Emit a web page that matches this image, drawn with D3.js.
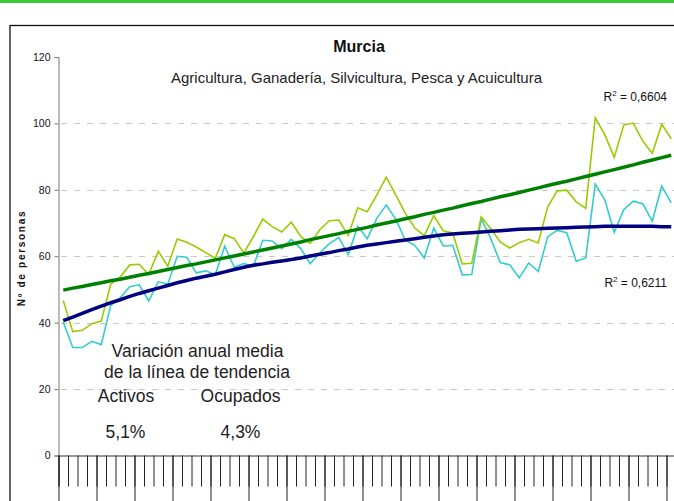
<!DOCTYPE html>
<head>
<meta charset="utf-8">
<title>Murcia - Agricultura</title>
<style>
body { margin: 0; background: #fff; }
svg { display: block; font-family: Arial, "Liberation Sans", sans-serif; }
</style>
</head>
<body>
<script src="https://d3js.org/d3.v7.min.js"></script>
<script>
// datos trimestrales (miles de personas)
var activos = [46.7, 37.3, 37.7, 39.7, 40.5, 51.6, 53.8, 57.4, 57.6, 54.5,
  61.5, 57.0, 65.2, 64.2, 62.8, 61.1, 59.4, 66.5, 65.3, 61.0,
  65.8, 71.2, 68.9, 67.3, 70.3, 66.0, 63.9, 68.0, 70.7, 70.9,
  66.3, 74.6, 73.4, 78.4, 83.8, 78.5, 73.0, 68.5, 66.2, 72.2,
  67.7, 67.0, 57.7, 57.9, 71.9, 68.3, 64.3, 62.5, 64.1, 65.1,
  64.0, 74.9, 79.7, 79.9, 76.4, 74.4, 101.7, 96.6, 89.8, 99.5,
  100.1, 94.7, 91.0, 99.7, 95.4];
var ocupados = [40.2, 32.5, 32.5, 34.4, 33.4, 45.2, 47.5, 50.8, 51.4, 46.6,
  52.3, 51.6, 60.0, 59.7, 55.0, 55.6, 54.4, 63.0, 56.7, 57.8,
  56.9, 64.8, 64.6, 62.3, 65.1, 62.3, 57.8, 61.0, 63.8, 65.6,
  60.5, 69.0, 65.3, 71.4, 75.4, 71.2, 64.9, 63.3, 59.5, 68.5,
  63.1, 63.3, 54.4, 54.5, 71.3, 65.3, 58.1, 57.4, 53.5, 58.0,
  55.4, 65.9, 67.8, 67.1, 58.5, 59.5, 81.7, 77.0, 67.2, 74.0,
  76.6, 75.8, 70.6, 81.1, 76.1];
// lineas de tendencia (polinomicas)
var tendActivos = [49.8, 50.4, 50.9, 51.5, 52.0, 52.6, 53.1, 53.7, 54.3, 54.8,
  55.4, 56.0, 56.6, 57.2, 57.7, 58.3, 58.9, 59.5, 60.1, 60.7,
  61.3, 61.9, 62.5, 63.1, 63.7, 64.3, 65.0, 65.6, 66.2, 66.8,
  67.5, 68.1, 68.7, 69.4, 70.0, 70.6, 71.3, 71.9, 72.6, 73.2,
  73.9, 74.5, 75.2, 75.9, 76.5, 77.2, 77.9, 78.5, 79.2, 79.9,
  80.6, 81.3, 82.0, 82.6, 83.3, 84.0, 84.7, 85.4, 86.1, 86.8,
  87.5, 88.3, 89.0, 89.7, 90.4];
var tendOcupados = [40.6, 41.7, 42.8, 43.9, 45.0, 46.0, 46.9, 47.9, 48.8, 49.6,
  50.4, 51.2, 52.0, 52.7, 53.4, 54.0, 54.6, 55.3, 56.0, 56.7,
  57.3, 57.7, 58.2, 58.6, 59.0, 59.5, 60.1, 60.6, 61.1, 61.7,
  62.2, 62.8, 63.3, 63.7, 64.1, 64.5, 64.9, 65.3, 65.7, 66.1,
  66.5, 66.7, 66.9, 67.1, 67.3, 67.5, 67.7, 67.9, 68.1, 68.2,
  68.3, 68.4, 68.5, 68.6, 68.7, 68.8, 68.9, 69.0, 69.0, 69.0,
  69.0, 69.0, 69.0, 68.9, 68.9];
var anos = ["2002", "2003", "2004", "2005", "2006", "2007", "2008", "2009", "2010",
  "2011", "2012", "2013", "2014", "2015", "2016", "2017", "2018"];
var yTicks = [0, 20, 40, 60, 80, 100, 120];

var width = 674, height = 501;
var svg = d3.select('body').append('svg')
  .attr('width', width)
  .attr('height', height);

// franja verde superior y marco
svg.append('rect').attr('x', 0).attr('y', 0).attr('width', width).attr('height', 3)
  .style('fill', '#3cc83c');
svg.append('rect').attr('x', 10).attr('y', 25.5).attr('width', 700).attr('height', 520)
  .style('fill', 'none').style('stroke', '#111').style('stroke-width', 1.3);

// escalas
var n = activos.length;
var x = d3.scaleLinear().domain([0, n]).range([58.5, 58.5 + n * 9.5]);
var y = d3.scaleLinear().domain([0, 120]).range([455.5, 57]);

// rejilla
svg.selectAll('line.grid')
  .data(yTicks.filter(function(d) { return d > 0 && d < 120; }))
  .enter().append('line')
  .attr('class', 'grid')
  .attr('x1', 61).attr('x2', width)
  .attr('y1', function(d) { return Math.round(y(d)) + 0.5; })
  .attr('y2', function(d) { return Math.round(y(d)) + 0.5; })
  .style('stroke', '#c8c8c8').style('stroke-dasharray', '6,7');

// eje Y
var ejeY = svg.append('g').attr('transform', 'translate(58.5,0)')
  .call(d3.axisLeft(y).tickValues(yTicks).tickSize(4).tickPadding(4));
ejeY.select('.domain').style('stroke', '#777');
ejeY.selectAll('.tick line').style('stroke', '#777');
ejeY.selectAll('.tick text').style('font-size', '10.5px').style('fill', '#111')
  .style('font-family', 'Arial, "Liberation Sans", sans-serif');

// eje X: marcas trimestrales y anuales
var ejeX = svg.append('g').attr('transform', 'translate(0,455.5)')
  .call(d3.axisBottom(x).tickValues(d3.range(0, n + 1)).tickSize(31).tickFormat(''));
ejeX.select('.domain').style('stroke', '#333');
ejeX.selectAll('.tick line').style('stroke', '#222');
var ejeX2 = svg.append('g').attr('transform', 'translate(0,455.5)')
  .call(d3.axisBottom(x).tickValues(d3.range(0, n + 1, 4)).tickSize(60).tickFormat(''));
ejeX2.select('.domain').remove();
ejeX2.selectAll('.tick line').style('stroke', '#222');
// etiquetas de año: quedan casi fuera del recorte, como en el original
svg.selectAll('text.ano')
  .data(anos)
  .enter().append('text')
  .attr('class', 'ano')
  .attr('x', function(d, i) { return x(i * 4 + 2); })
  .attr('y', 509.5)
  .attr('text-anchor', 'middle')
  .style('font-size', '11px').style('fill', '#999')
  .text(function(d) { return d; });

// series
var linea = function(datos) {
  return d3.line()
    .x(function(d, i) { return x(i + 0.5); })
    .y(function(d) { return y(d); })(datos);
};
svg.append('path').attr('d', linea(ocupados))
  .style('fill', 'none').style('stroke', '#33cccc').style('stroke-width', 1.6);
svg.append('path').attr('d', linea(activos))
  .style('fill', 'none').style('stroke', '#99cc00').style('stroke-width', 1.6);
svg.append('path').attr('d', linea(tendOcupados))
  .style('fill', 'none').style('stroke', '#000080').style('stroke-width', 3.5);
svg.append('path').attr('d', linea(tendActivos))
  .style('fill', 'none').style('stroke', '#008000').style('stroke-width', 3.5);

// titulos
svg.append('text').attr('x', 359).attr('y', 52).attr('text-anchor', 'middle')
  .style('font-size', '16px').style('font-weight', 'bold').style('fill', '#111')
  .text('Murcia');
svg.append('text').attr('x', 356.5).attr('y', 83).attr('text-anchor', 'middle')
  .style('font-size', '15px').style('fill', '#222')
  .text('Agricultura, Ganadería, Silvicultura, Pesca y Acuicultura');

// titulo eje Y
svg.append('text')
  .attr('transform', 'translate(24.5,258) rotate(-90)')
  .attr('text-anchor', 'middle')
  .style('font-size', '10px').style('font-weight', 'bold').style('letter-spacing', '1.7px')
  .style('fill', '#111')
  .text('Nº de personas');

// R2
function r2(yPos, valor) {
  var t = svg.append('text').attr('x', 667).attr('y', yPos).attr('text-anchor', 'end')
    .style('font-size', '12px').style('fill', '#111');
  t.append('tspan').text('R');
  t.append('tspan').attr('dy', -5).style('font-size', '8px').text('2');
  t.append('tspan').attr('dy', 5).text(' = ' + valor);
}
r2(101, '0,6604');
r2(287, '0,6211');

// nota de variacion anual
var nota = [
  {t: 'Variación anual media', x: 197.5, y: 357},
  {t: 'de la línea de tendencia', x: 197, y: 378},
  {t: 'Activos', x: 126, y: 402},
  {t: 'Ocupados', x: 240.5, y: 402},
  {t: '5,1%', x: 125.5, y: 438},
  {t: '4,3%', x: 240.5, y: 438}
];
svg.selectAll('text.nota')
  .data(nota)
  .enter().append('text')
  .attr('class', 'nota')
  .attr('x', function(d) { return d.x; })
  .attr('y', function(d) { return d.y; })
  .attr('text-anchor', 'middle')
  .style('font-size', '17.5px').style('fill', '#222')
  .text(function(d) { return d.t; });
</script>
</body>
</html>
